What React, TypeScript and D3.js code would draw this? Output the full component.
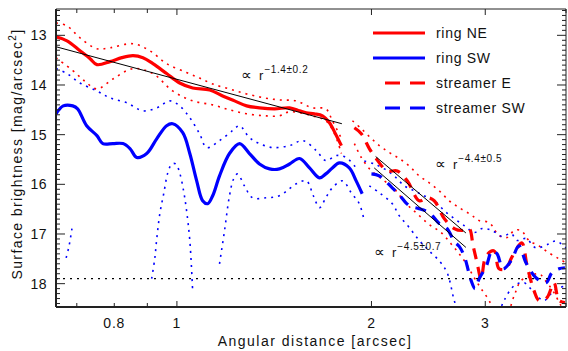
import * as d3 from 'd3';

type Pt = [number, number | null];

// angular distance [arcsec], surface brightness [mag/arcsec^2]
const ringNE: Pt[] = [
  [0.65, 13.03], [0.676, 13.11], [0.708, 13.31], [0.734, 13.47], [0.752, 13.59], [0.788, 13.53],
  [0.822, 13.45], [0.855, 13.41], [0.886, 13.45], [0.918, 13.57], [0.964, 13.77], [1.01, 13.96],
  [1.058, 14.06], [1.124, 14.1], [1.177, 14.22], [1.228, 14.32], [1.282, 14.42], [1.342, 14.46],
  [1.416, 14.48], [1.494, 14.46], [1.548, 14.52], [1.586, 14.56], [1.632, 14.58], [1.68, 14.62],
  [1.722, 14.76], [1.759, 14.98], [1.797, 15.22],
];
const ringNEHi: Pt[] = [
  [0.65, 12.75], [0.676, 12.81], [0.708, 13.05], [0.752, 13.27], [0.788, 13.25], [0.855, 13.17],
  [0.908, 13.31], [0.964, 13.57], [1.035, 13.75], [1.084, 13.86], [1.136, 13.98], [1.206, 14.08],
  [1.282, 14.18], [1.366, 14.26], [1.441, 14.3], [1.53, 14.32], [1.62, 14.46], [1.7, 14.48],
  [1.74, 14.72], [1.804, 15.12],
];
const ringNELo: Pt[] = [
  [0.65, 13.45], [0.69, 13.71], [0.72, 13.92], [0.752, 14.08], [0.796, 13.88], [0.855, 13.67],
  [0.918, 13.77], [0.985, 14.12], [1.058, 14.32], [1.136, 14.4], [1.206, 14.5], [1.282, 14.58],
  [1.366, 14.62], [1.441, 14.62], [1.494, 14.54], [1.62, 14.62], [1.7, 14.72], [1.753, 14.98],
  [1.797, 15.38],
];
const ringSW: Pt[] = [
  [0.65, 14.58], [0.667, 14.42], [0.69, 14.42], [0.702, 14.48], [0.725, 14.82], [0.752, 15.02],
  [0.768, 15.18], [0.796, 15.18], [0.825, 15.18], [0.846, 15.28], [0.867, 15.46], [0.898, 15.38],
  [0.931, 15.08], [0.964, 14.82], [0.985, 14.78], [1.021, 14.96], [1.047, 15.38], [1.073, 15.93],
  [1.096, 16.33], [1.116, 16.39], [1.136, 16.23], [1.164, 15.83], [1.206, 15.38], [1.25, 15.18],
  [1.295, 15.38], [1.342, 15.59], [1.391, 15.69], [1.441, 15.69], [1.494, 15.59], [1.548, 15.48],
  [1.604, 15.67], [1.662, 15.87], [1.7, 15.79], [1.74, 15.67], [1.784, 15.57], [1.848, 15.67],
  [1.894, 15.93], [1.935, 16.19],
];
const ringSWHi: Pt[] = [
  [0.65, 13.67], [0.676, 13.77], [0.708, 13.96], [0.752, 14.12], [0.788, 14.26], [0.837, 14.36],
  [0.886, 14.52], [0.931, 14.46], [0.975, 14.32], [1.01, 14.42], [1.047, 14.66], [1.084, 14.98],
  [1.112, 15.26], [1.164, 15.12], [1.219, 14.92], [1.25, 14.82], [1.295, 15.06], [1.342, 15.18],
  [1.406, 15.26], [1.494, 15.22], [1.566, 15.12], [1.643, 15.32], [1.7, 15.52], [1.766, 15.42],
  [1.828, 15.46], [1.894, 15.67],
];
const ringSWLo: Pt[] = [
  [0.674, 17.48], [0.681, 17.24], [0.688, 16.89], [0.69, null],
  [0.914, 17.9], [0.924, 17.5], [0.931, 17.08], [0.941, 16.59], [0.954, 16.19], [0.968, 15.77],
  [0.982, 15.59], [0.996, 15.59], [1.01, 15.77], [1.024, 16.13], [1.035, 16.53], [1.047, 17.13],
  [1.058, 18.18], [1.06, null],
  [1.164, 17.6], [1.185, 16.93], [1.206, 16.23], [1.224, 15.89], [1.241, 15.79], [1.272, 16.03],
  [1.309, 16.27], [1.376, 16.27], [1.441, 16.23], [1.53, 15.99], [1.586, 15.93], [1.626, 16.23],
  [1.662, 16.47], [1.7, 16.27], [1.74, 16.07], [1.804, 15.93], [1.861, 16.17], [1.915, 16.39],
  [1.949, 16.73],
];
const streamerE: Pt[] = [
  [1.882, 14.86], [1.929, 14.98], [1.985, 15.28], [2.028, 15.46], [2.116, 15.73], [2.193, 15.73],
  [2.272, 15.93], [2.371, 16.33], [2.439, 16.27], [2.501, 16.33], [2.592, 16.69], [2.686, 16.89],
  [2.763, 16.93], [2.832, 16.89], [2.873, 17.24], [2.914, 17.58], [2.956, 17.9], [3.009, 17.44],
  [3.096, 17.34], [3.151, 17.7], [3.231, 17.7], [3.289, 17.5], [3.36, 17.28], [3.42, 17.18],
  [3.482, 17.64], [3.569, 18.14], [3.634, 18.34], [3.738, 18.28], [3.832, 17.98], [3.901, 18.34],
  [3.985, 18.38],
];
const streamerEHi: Pt[] = [
  [1.869, 14.72], [1.929, 14.88], [1.993, 15.06], [2.057, 15.22], [2.131, 15.36], [2.208, 15.48],
  [2.288, 15.63], [2.371, 15.83], [2.457, 15.97], [2.546, 16.13], [2.638, 16.33], [2.734, 16.47],
  [2.832, 16.59], [2.884, 16.66], [2.935, 16.73], [3.041, 16.77], [3.151, 17.03], [3.243, 17.07],
  [3.326, 16.93], [3.408, 16.93], [3.506, 17.13], [3.633, 17.24], [3.764, 17.38], [3.901, 17.5],
  [4.0, 17.58],
];
const streamerELo: Pt[] = [
  [1.882, 15.18], [1.929, 15.46], [2.0, 15.73], [2.094, 15.93], [2.169, 16.09], [2.264, 16.39],
  [2.354, 16.59], [2.457, 16.81], [2.564, 16.97], [2.657, 17.2], [2.734, 17.4], [2.804, 17.6],
  [2.884, 17.88], [2.956, 18.1], [3.041, 18.34], [3.118, 18.64], [3.21, 18.74], [3.326, 18.24],
  [3.408, 17.94], [3.506, 17.86], [3.633, 17.8], [3.738, 17.98], [3.832, 18.18], [3.929, 18.44],
  [4.0, 18.58],
];
const streamerSW: Pt[] = [
  [2.0, 15.79], [2.057, 15.83], [2.154, 16.07], [2.208, 16.21], [2.288, 16.43], [2.371, 16.49],
  [2.457, 16.57], [2.546, 16.79], [2.619, 16.89], [2.686, 17.15], [2.734, 17.25], [2.783, 17.44],
  [2.853, 17.94], [2.893, 18.1], [2.935, 17.9], [3.009, 17.66], [3.074, 17.34], [3.129, 17.4],
  [3.196, 17.7], [3.289, 17.54], [3.383, 17.24], [3.469, 17.58], [3.594, 17.88], [3.724, 17.98],
  [3.804, 17.78], [3.901, 17.7], [3.985, 17.68],
];
const streamerSWHi: Pt[] = [
  [1.95, 15.53], [2.02, 15.59], [2.094, 15.69], [2.169, 15.83], [2.248, 16.03], [2.329, 16.13],
  [2.413, 16.23], [2.501, 16.33], [2.592, 16.53], [2.686, 16.69], [2.783, 16.83], [2.884, 16.97],
  [2.966, 16.89], [3.074, 16.93], [3.185, 17.05], [3.289, 16.99], [3.36, 17.13], [3.469, 17.09],
  [3.594, 17.28], [3.764, 17.2], [3.859, 17.14], [4.0, 17.28],
];
const streamerSWLo: Pt[] = [
  [1.985, 16.03], [2.057, 16.17], [2.154, 16.39], [2.208, 16.63], [2.288, 16.87], [2.371, 17.13],
  [2.457, 17.34], [2.546, 17.54], [2.619, 17.78], [2.686, 18.34], [2.734, 18.64], [2.76, null],
  [3.151, 18.58], [3.208, 18.34], [3.326, 18.04], [3.444, 17.98], [3.569, 18.18], [3.698, 18.34],
  [3.832, 18.14], [4.0, 18.04],
];

// power-law fits (end points)
const fitInner: Pt[] = [[0.65, 13.23], [1.8, 14.78]];
const fitStreamerE: Pt[] = [[2.03, 15.44], [2.8, 16.98]];
const fitStreamerSW: Pt[] = [[2.02, 15.67], [2.8, 17.27]];
const skyLevel = 17.9;

const fitLabels = [
  { r: 1.258, mag: 13.9, exp: '−1.4±0.2' },
  { r: 2.51, mag: 15.7, exp: '−4.4±0.5' },
  { r: 2.02, mag: 17.46, exp: '−4.5±0.7' },
];

const legendNames = ['ring NE', 'ring SW', 'streamer E', 'streamer SW'];

const xDomain = [0.65, 4.0];
const yDomain = [12.47, 18.47];
const xMajor = [1, 2, 3];
const xMinor = [0.7, 0.8, 0.9, 4];
const xLabels = [0.8, 1, 2, 3];
const yLabels = [13, 14, 15, 16, 17, 18];

const RED = '#ff0000';
const BLUE = '#0000ff';
const FONT = '"Liberation Sans", Arial, sans-serif';

export default function App() {
  const W = 568;
  const H = 351;
  const L = 56, R = 566, T = 9, B = 307;

  const x = d3.scaleLog().domain(xDomain).range([L, R]);
  const y = d3.scaleLinear().domain(yDomain).range([T, B]);

  const line = d3
    .line<Pt>()
    .defined((d) => d[1] !== null)
    .x((d) => x(d[0]))
    .y((d) => y(d[1] as number))
    .curve(d3.curveCatmullRom.alpha(0.5));
  const straight = d3
    .line<Pt>()
    .x((d) => x(d[0]))
    .y((d) => y(d[1] as number));

  const series = [
    { d: ringNEHi, c: RED, kind: 'dot' },
    { d: ringNELo, c: RED, kind: 'dot' },
    { d: ringSWHi, c: BLUE, kind: 'dot' },
    { d: ringSWLo, c: BLUE, kind: 'dot' },
    { d: streamerEHi, c: RED, kind: 'dot' },
    { d: streamerELo, c: RED, kind: 'dot' },
    { d: streamerSWHi, c: BLUE, kind: 'dot' },
    { d: streamerSWLo, c: BLUE, kind: 'dot' },
    { d: ringNE, c: RED, kind: 'solid' },
    { d: ringSW, c: BLUE, kind: 'solid' },
    { d: streamerE, c: RED, kind: 'dash' },
    { d: streamerSW, c: BLUE, kind: 'dash' },
  ];

  const yMinor = d3.range(125, 185).map((v) => v / 10).filter((v) => !yLabels.includes(v));
  const axisColor = '#222';

  return (
    <svg width={W} height={H} style={{ position: 'absolute', left: 0, top: 0, background: '#fff' }} fontFamily={FONT}>
      <defs>
        <clipPath id="plot">
          <rect x={L} y={T} width={R - L} height={B - T} />
        </clipPath>
      </defs>
      <rect width={W} height={H} fill="#fff" />

      <g clipPath="url(#plot)">
        {series.map((s, i) => (
          <path
            key={i}
            d={line(s.d) || ''}
            fill="none"
            stroke={s.c}
            strokeWidth={s.kind === 'dot' ? 1.6 : 3.2}
            strokeDasharray={s.kind === 'dot' ? '2 5' : s.kind === 'dash' ? '11 8' : undefined}
          />
        ))}
        {[fitInner, fitStreamerE, fitStreamerSW].map((f, i) => (
          <path key={i} d={straight(f) || ''} fill="none" stroke="#000" strokeWidth={1} />
        ))}
        <line x1={L} x2={R} y1={y(skyLevel)} y2={y(skyLevel)} stroke="#000" strokeWidth={1.3} strokeDasharray="2 5" />
      </g>

      {/* frame */}
      <line x1={L} x2={R} y1={T} y2={T} stroke={axisColor} strokeWidth={1} />
      <line x1={R} x2={R} y1={T} y2={B} stroke={axisColor} strokeWidth={1} />
      <line x1={L} x2={L} y1={T} y2={B} stroke={axisColor} strokeWidth={2} />
      <line x1={L} x2={R} y1={B} y2={B} stroke={axisColor} strokeWidth={2} />

      {/* y ticks */}
      {yLabels.map((v) => (
        <g key={v}>
          <line x1={L} x2={L + 9} y1={y(v)} y2={y(v)} stroke={axisColor} />
          <line x1={R} x2={R - 9} y1={y(v)} y2={y(v)} stroke={axisColor} />
          <text x={47} y={y(v) + 5} textAnchor="end" fontSize={14} fill="#111" letterSpacing={0.5}>{v}</text>
        </g>
      ))}
      {yMinor.map((v) => (
        <g key={v}>
          <line x1={L} x2={L + 4} y1={y(v)} y2={y(v)} stroke={axisColor} />
          <line x1={R} x2={R - 4} y1={y(v)} y2={y(v)} stroke={axisColor} />
        </g>
      ))}

      {/* x ticks */}
      {xMajor.map((v) => (
        <g key={v}>
          <line x1={x(v)} x2={x(v)} y1={B} y2={B - 6} stroke={axisColor} />
          <line x1={x(v)} x2={x(v)} y1={T} y2={T + 6} stroke={axisColor} />
        </g>
      ))}
      {xMinor.map((v) => (
        <g key={v}>
          <line x1={x(v)} x2={x(v)} y1={B} y2={B - 4} stroke={axisColor} />
          <line x1={x(v)} x2={x(v)} y1={T} y2={T + 4} stroke={axisColor} />
        </g>
      ))}
      {xLabels.map((v) => (
        <text key={v} x={x(v)} y={328} textAnchor="middle" fontSize={14} fill="#111" letterSpacing={0.8}>
          {v}
        </text>
      ))}

      <text x={315} y={346} textAnchor="middle" fontSize={14} fill="#111" letterSpacing={1.5}>
        Angular distance [arcsec]
      </text>
      <text transform="translate(22,154) rotate(-90)" textAnchor="middle" fontSize={14} fill="#111" letterSpacing={1.4}>
        Surface brightness [mag/arcsec<tspan dy={-6} fontSize={10}>2</tspan><tspan dy={6}>]</tspan>
      </text>

      {/* fit labels */}
      {fitLabels.map((f, i) => (
        <text key={i} x={x(f.r)} y={y(f.mag)} fontSize={13} fill="#111">
          <tspan fontFamily="DejaVu Sans" fontSize={15}>∝</tspan>
          <tspan dx={7}>r</tspan>
          <tspan dy={-7} dx={1} fontSize={10} letterSpacing={0.6}>{f.exp}</tspan>
        </text>
      ))}

      {/* legend */}
      {legendNames.map((n, i) => {
        const ly = 33 + i * 25;
        const dashed = i >= 2;
        const c = i % 2 === 0 ? RED : BLUE;
        return (
          <g key={n}>
            <line
              x1={dashed ? 385 : 373}
              x2={425}
              y1={ly}
              y2={ly}
              stroke={c}
              strokeWidth={3.2}
              strokeDasharray={dashed ? '15 10' : undefined}
            />
            <text x={436} y={ly + 5} fontSize={14} fill="#111" letterSpacing={0.7}>
              {n}
            </text>
          </g>
        );
      })}
    </svg>
  );
}
